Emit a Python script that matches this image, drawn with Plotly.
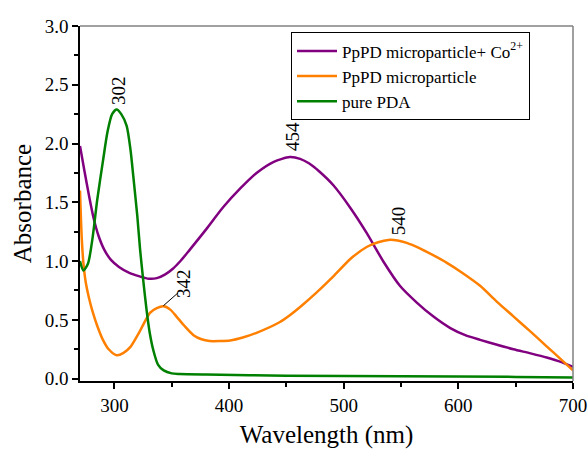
import plotly.graph_objects as go

# PpPD microparticle + Co2+
purple_x = [270, 274, 278, 282, 286, 291, 297, 304, 313, 322, 330, 337, 344, 351, 358, 366, 380, 395, 410, 424, 439, 453, 462, 470, 479, 491, 506, 520, 535, 549, 564, 578, 593, 606, 619, 633, 648, 663, 677, 690, 700]
purple_y = [1.98, 1.76, 1.55, 1.36, 1.22, 1.10, 1.01, 0.95, 0.90, 0.87, 0.85, 0.855, 0.885, 0.935, 1.005, 1.10, 1.27, 1.46, 1.62, 1.75, 1.845, 1.885, 1.87, 1.83, 1.76, 1.645, 1.45, 1.24, 0.99, 0.79, 0.645, 0.53, 0.43, 0.37, 0.33, 0.29, 0.25, 0.215, 0.18, 0.14, 0.10]

# PpPD microparticle
orange_x = [270, 271.5, 273, 275, 278, 281, 285, 290, 295, 302, 308, 314, 322, 331, 337, 343, 349, 354, 361, 369, 376, 383, 392, 401, 412, 424, 444, 453, 462, 476, 491, 506, 520, 530, 539, 547, 555, 566, 578, 590, 602, 619, 633, 648, 663, 677, 690, 700]
orange_y = [1.60, 1.20, 0.98, 0.82, 0.68, 0.57, 0.45, 0.33, 0.25, 0.20, 0.22, 0.27, 0.40, 0.56, 0.60, 0.615, 0.585, 0.53, 0.45, 0.37, 0.335, 0.32, 0.32, 0.325, 0.35, 0.39, 0.48, 0.54, 0.61, 0.73, 0.87, 1.02, 1.12, 1.16, 1.18, 1.175, 1.155, 1.11, 1.05, 0.985, 0.91, 0.79, 0.66, 0.53, 0.40, 0.275, 0.16, 0.07]

# pure PDA
green_x = [270, 273, 277, 281, 285, 290, 294, 298, 302, 306, 310.7, 314, 316.5, 320, 322.4, 325, 328, 331, 334, 338, 343, 350, 357, 380, 450, 550, 650, 700]
green_y = [1.00, 0.92, 0.98, 1.20, 1.52, 1.85, 2.10, 2.25, 2.29, 2.25, 2.15, 1.95, 1.72, 1.38, 1.10, 0.85, 0.59, 0.38, 0.24, 0.12, 0.07, 0.045, 0.04, 0.035, 0.025, 0.02, 0.015, 0.01]

names = ["PpPD microparticle+ Co<sup>2+</sup>", "PpPD microparticle", "pure PDA"]
colors = ["#800080", "#FF8000", "#008000"]

peak_labels = ["302", "454", "540", "342"]
peak_x = [303.5, 455.4, 547.5, 360.3]
peak_y = [2.45, 2.06, 1.34, 0.81]

FONT = "Liberation Serif, Times New Roman, serif"

fig = go.Figure()
for xs, ys, nm, c in zip([purple_x, orange_x, green_x], [purple_y, orange_y, green_y], names, colors):
    fig.add_trace(go.Scatter(x=xs, y=ys, mode="lines", name=nm,
                             line=dict(color=c, width=2.5, shape="spline", smoothing=0.7)))

for t, x, y in zip(peak_labels, peak_x, peak_y):
    fig.add_annotation(x=x, y=y, text=t, textangle=-90, showarrow=False,
                       font=dict(family=FONT, size=19, color="black"),
                       xanchor="center", yanchor="middle")

# leader line for 342
fig.add_shape(type="line", x0=342.7, y0=0.62, x1=355.5, y1=0.73,
              line=dict(color="black", width=1))
# gray top/right frame
fig.add_shape(type="line", xref="paper", yref="paper", x0=0, y0=1, x1=1, y1=1,
              line=dict(color="#808080", width=1.5))
fig.add_shape(type="line", xref="paper", yref="paper", x0=1, y0=0, x1=1, y1=1,
              line=dict(color="#808080", width=1.5))

fig.update_layout(
    width=588, height=450,
    margin=dict(l=80, r=15, t=26, b=69, autoexpand=False),
    plot_bgcolor="white", paper_bgcolor="white",
    font=dict(family=FONT, color="black"),
    showlegend=True,
    legend=dict(x=0.428, y=0.982, xanchor="left", yanchor="top",
                bordercolor="black", borderwidth=1, bgcolor="white",
                font=dict(family=FONT, size=17, color="black"),
                tracegroupgap=0, itemwidth=40),
    xaxis=dict(range=[270, 700], tickmode="array", tickvals=[300, 400, 500, 600, 700],
               automargin=False, ticklabeloverflow="allow",
               ticks="outside", ticklen=6, tickwidth=1.5, tickcolor="black",
               showline=True, linecolor="black", linewidth=1.5, showgrid=False, zeroline=False,
               minor=dict(tickvals=[350, 450, 550, 650], ticks="outside", ticklen=4, tickcolor="black", tickwidth=1.5),
               tickfont=dict(family=FONT, size=19),
               title=dict(text="Wavelength (nm)", font=dict(family=FONT, size=25), standoff=11)),
    yaxis=dict(range=[-0.02, 3.0], tickmode="array", tickvals=[0, 0.5, 1.0, 1.5, 2.0, 2.5, 3.0],
               ticktext=["0.0", "0.5", "1.0", "1.5", "2.0", "2.5", "3.0"],
               automargin=False,
               ticks="outside", ticklen=6, tickwidth=1.5, tickcolor="black",
               showline=True, linecolor="black", linewidth=1.5, showgrid=False, zeroline=False,
               minor=dict(tickvals=[0.25, 0.75, 1.25, 1.75, 2.25, 2.75], ticks="outside", ticklen=4, tickcolor="black", tickwidth=1.5),
               tickfont=dict(family=FONT, size=19),
               title=dict(text="Absorbance", font=dict(family=FONT, size=25), standoff=6)),
)

fig.write_html("out.html", config={"displayModeBar": False},
               post_script="document.body.style.margin='0px';document.documentElement.style.overflow='hidden';")
